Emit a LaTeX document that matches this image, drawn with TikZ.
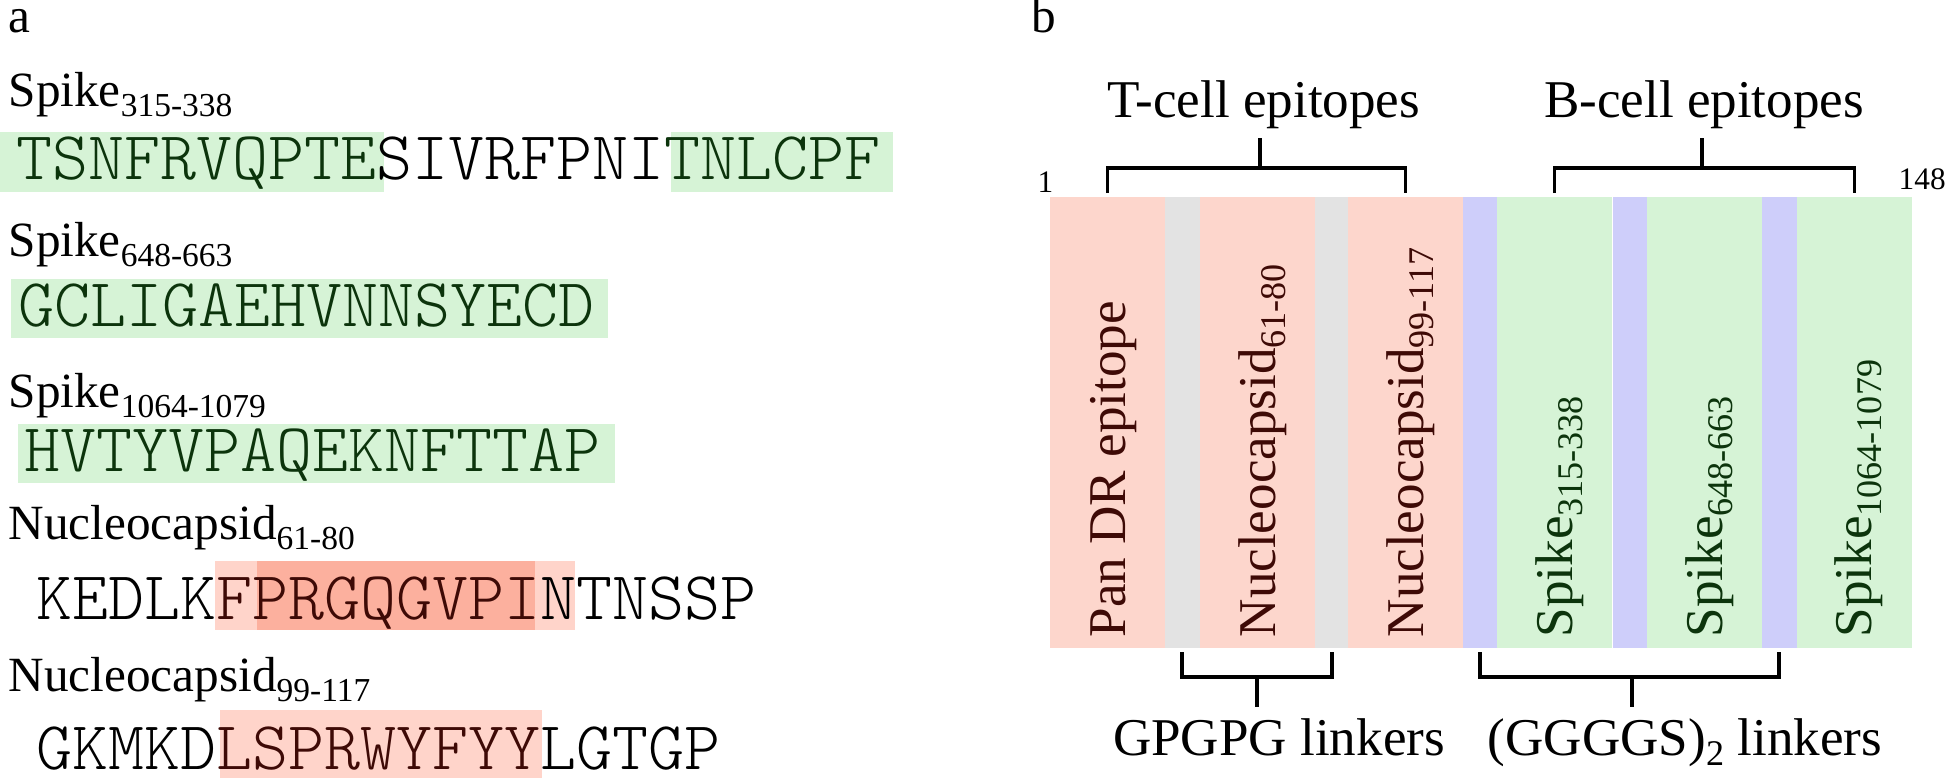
\documentclass[tikz,border=0pt]{standalone}
\usepackage{fontspec}
\setmainfont{Liberation Serif}
\newfontfamily\seqfamily{Latin Modern Mono Light}

\definecolor{epired}{RGB}{253,214,204}
\definecolor{epigreen}{RGB}{214,243,214}
\definecolor{lnkgray}{RGB}{227,227,227}
\definecolor{lnkblue}{RGB}{206,206,250}
\definecolor{hlred}{RGB}{255,212,202}
\definecolor{hlreddark}{RGB}{252,176,158}
\definecolor{txtgreen}{RGB}{12,52,12}
\definecolor{txtred}{RGB}{62,10,6}

\newcommand{\subtxt}[1]{\raisebox{-0.2em}{\scalebox{0.68}{#1}}}

\begin{document}
\begin{tikzpicture}[x=0.01cm,y=-0.01cm,
    hdr/.style={anchor=base west, inner sep=0pt, font=\fontsize{14}{16}\selectfont},
    seq/.style={anchor=base west, inner sep=0pt, font=\seqfamily\fontsize{19.5}{22}\selectfont},
    capt/.style={anchor=base, inner sep=0pt, font=\fontsize{15.1}{18}\selectfont},
    numlab/.style={anchor=base west, inner sep=0pt, font=\fontsize{8.9}{10}\selectfont},
    seg/.style={rectangle, inner sep=0pt, outer sep=0pt, minimum height=4.51cm, anchor=north west},
    epi/.style={seg, minimum width=1.15cm},
    lnk/.style={seg, minimum width=0.345cm},
    vlab/.style={rotate=90, anchor=base west, inner sep=0pt, font=\fontsize{15.1}{18}\selectfont},
    brace/.style={line width=1.1pt}]
  \useasboundingbox (0,0) rectangle (1946,780);

  % panel a: sequences
  \node[hdr] (la) at (8,33) {a};
  \node[hdr] (h1) at (8,107) {Spike\subtxt{315-338}};
  \fill[epigreen] (0,132) rectangle (384,192);
  \fill[epigreen] (671,132) rectangle (893,192);
  \node[seq] (s1) at (16,180) {\textcolor{txtgreen}{TSNFRVQPTE}SIVRFPNI\textcolor{txtgreen}{TNLCPF}};

  \node[hdr] (h2) at (8,257) {Spike\subtxt{648-663}};
  \fill[epigreen] (11,279) rectangle (608,338);
  \node[seq, text=txtgreen] (s2) at (18,327) {GCLIGAEHVNNSYECD};

  \node[hdr] (h3) at (8,408) {Spike\subtxt{1064-1079}};
  \fill[epigreen] (18,424) rectangle (615,483);
  \node[seq, text=txtgreen] (s3) at (24,472) {HVTYVPAQEKNFTTAP};

  \node[hdr] (h4) at (8,540) {Nucleocapsid\subtxt{61-80}};
  \fill[hlred] (215,561) rectangle (575,630);
  \fill[hlreddark] (257,561) rectangle (535,630);
  \node[seq] (s4) at (36,620) {KEDLK\textcolor{txtred}{FPRGQGVPI}NTNSSP};

  \node[hdr] (h5) at (8,692) {Nucleocapsid\subtxt{99-117}};
  \fill[hlred] (220,710) rectangle (542,778);
  \node[seq] (s5) at (36,770) {GKMKD\textcolor{txtred}{LSPRWYFYY}LGTGP};

  % panel b: construct
  \node[hdr] (lb) at (1031,33) {b};
  \node[epi, fill=epired]   (pan)   at (1050,197) {};
  \node[lnk, fill=lnkgray]  (g1)    at (1165,197) {};
  \node[epi, fill=epired]   (n61)   at (1200,197) {};
  \node[lnk, fill=lnkgray]  (g2)    at (1315,197) {};
  \node[epi, fill=epired]   (n99)   at (1348,197) {};
  \node[lnk, fill=lnkblue]  (l1)    at (1463,197) {};
  \node[epi, fill=epigreen] (s315)  at (1497,197) {};
  \node[lnk, fill=lnkblue]  (l2)    at (1613,197) {};
  \node[epi, fill=epigreen] (s648)  at (1647,197) {};
  \node[lnk, fill=lnkblue]  (l3)    at (1762,197) {};
  \node[epi, fill=epigreen] (s1064) at (1797,197) {};

  \node[vlab, text=txtred]   (panlab)   at (1125,638) {Pan DR epitope};
  \node[vlab, text=txtred]   (n61lab)   at (1275,638) {Nucleocapsid\subtxt{61-80}};
  \node[vlab, text=txtred]   (n99lab)   at (1423,638) {Nucleocapsid\subtxt{99-117}};
  \node[vlab, text=txtgreen] (s315lab)  at (1572,638) {Spike\subtxt{315-338}};
  \node[vlab, text=txtgreen] (s648lab)  at (1722,638) {Spike\subtxt{648-663}};
  \node[vlab, text=txtgreen] (s1064lab) at (1871,638) {Spike\subtxt{1064-1079}};

  \node[numlab] (first) at (1037,193) {1};
  \node[numlab] (last) at (1898,190) {148};

  % epitope brackets
  \node[capt] (tcell) at (1264,118) {T-cell epitopes};
  \node[capt] (bcell) at (1704,118) {B-cell epitopes};
  \draw[brace] ([yshift=1.1pt]pan.north) -- ++(0,-25) -| ([yshift=1.1pt]n99.north);
  \draw[brace] ([yshift=1.1pt]s315.north) -- ++(0,-25) -| ([yshift=1.1pt]s1064.north);
  \coordinate (tmid) at (1260,168);
  \coordinate (bmid) at (1702,168);
  \draw[brace] (tmid) -- ++(0,-30);
  \draw[brace] (bmid) -- ++(0,-30);

  % linker brackets
  \node[capt] (gpg) at (1279,755) {GPGPG linkers};
  \node[capt] (ggs) at (1685,755) {(GGGGS)\subtxt{2} linkers};
  \draw[brace] ([yshift=-1.1pt]g1.south) -- ++(0,25) -| ([yshift=-1.1pt]g2.south);
  \draw[brace] ([yshift=-1.1pt]l1.south) -- ++(0,25) -| ([yshift=-1.1pt]l3.south);
  \coordinate (gmid) at (1257,677);
  \coordinate (smid) at (1632,677);
  \draw[brace] (gmid) -- ++(0,30);
  \draw[brace] (smid) -- ++(0,30);
\end{tikzpicture}
\end{document}
